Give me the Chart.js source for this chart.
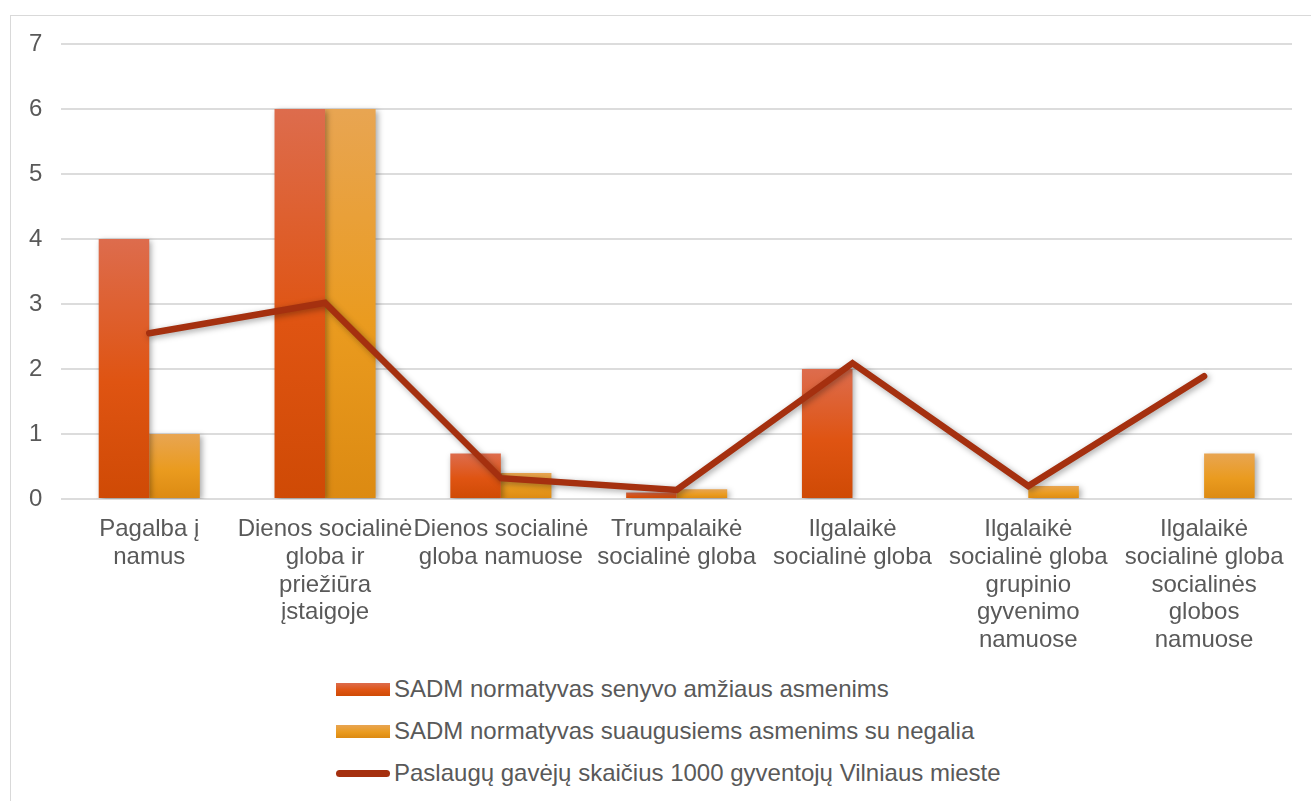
<!DOCTYPE html>
<html>
<head>
<meta charset="utf-8">
<script src="https://cdn.jsdelivr.net/npm/chart.js@4/dist/chart.umd.min.js"></script>
<style>
  html, body { margin: 0; padding: 0; background: #fff; }
  body { width: 1311px; height: 801px; position: relative; overflow: hidden; font-family: "Liberation Sans", Arial, sans-serif; }
  #frame { position: absolute; left: 10px; top: 15px; width: 1310px; height: 800px; border: 1.5px solid #d9d9d9; box-sizing: border-box; }
  #wrap { position: absolute; left: 0; top: 0; width: 1311px; height: 663px; }
  #legend { position: absolute; left: 336px; top: 668px; color: #595959; font-size: 24px; }
  #legend .item { height: 42px; display: flex; align-items: center; }
  #legend .swatch { width: 54px; height: 13px; margin-right: 4px; }
  #legend .lineSwatch { width: 54px; height: 7px; border-radius: 4px; margin-right: 4px; }
</style>
</head>
<body>
<div id="frame"></div>
<div id="wrap"><canvas id="chart" width="1311" height="663"></canvas></div>
<div id="legend"></div>
<script>
const categories = [
  ['Pagalba į', 'namus'],
  ['Dienos socialinė', 'globa ir', 'priežiūra', 'įstaigoje'],
  ['Dienos socialinė', 'globa namuose'],
  ['Trumpalaikė', 'socialinė globa'],
  ['Ilgalaikė', 'socialinė globa'],
  ['Ilgalaikė', 'socialinė globa', 'grupinio', 'gyvenimo', 'namuose'],
  ['Ilgalaikė', 'socialinė globa', 'socialinės', 'globos', 'namuose']
]
const seriesNames = [
  'SADM normatyvas senyvo amžiaus asmenims',
  'SADM normatyvas suaugusiems asmenims su negalia',
  'Paslaugų gavėjų skaičius 1000 gyventojų Vilniaus mieste'
]
const seniorNorm = [4, 6, 0.7, 0.1, 2, null, null]
const disabilityNorm = [1, 6, 0.4, 0.15, null, 0.2, 0.7]
const recipientsPer1000 = [2.55, 3.02, 0.32, 0.14, 2.09, 0.2, 1.89]
const yMin = 0, yMax = 7, yStep = 1

const redStops = ['#dd6c4d', '#df5412', '#cf4a05']
const amberStops = ['#e8a552', '#ea9b1f', '#dc8a12']
const lineColor = '#a5300f'

function barFill(c, stops) {
  var chart = c.chart
  if (!chart.chartArea || c.raw == null) return stops[1]
  var y = chart.scales.y
  var top = y.getPixelForValue(c.raw)
  var base = y.getPixelForValue(0)
  if (base - top < 1) return stops[1]
  var g = chart.ctx.createLinearGradient(0, top, 0, base)
  g.addColorStop(0, stops[0])
  g.addColorStop(0.55, stops[1])
  g.addColorStop(1, stops[2])
  return g
}

// soft drop shadow like the office chart
const shadowPlugin = {
  id: 'shadow',
  beforeDatasetDraw(chart, args) {
    var ctx = chart.ctx
    ctx.save()
    ctx.shadowColor = 'rgba(0,0,0,0.35)'
    ctx.shadowBlur = 6
    ctx.shadowOffsetX = 2
    ctx.shadowOffsetY = 2
  },
  afterDatasetDraw(chart) {
    chart.ctx.restore()
  }
}

const font = { family: '"Liberation Sans", Arial, sans-serif', size: 24, lineHeight: 1.15 }

var chart = new Chart(document.getElementById('chart'), {
  type: 'bar',
  data: {
    labels: categories,
    datasets: [
      {
        label: seriesNames[0],
        data: seniorNorm,
        backgroundColor: c => barFill(c, redStops),
        categoryPercentage: 0.575,
        barPercentage: 1,
        order: 1
      },
      {
        label: seriesNames[1],
        data: disabilityNorm,
        backgroundColor: c => barFill(c, amberStops),
        categoryPercentage: 0.575,
        barPercentage: 1,
        order: 1
      },
      {
        type: 'line',
        label: seriesNames[2],
        data: recipientsPer1000,
        borderColor: lineColor,
        borderWidth: 6.5,
        borderCapStyle: 'round',
        borderJoinStyle: 'miter',
        pointRadius: 0,
        tension: 0,
        fill: false,
        order: 0
      }
    ]
  },
  options: {
    responsive: false,
    animation: false,
    layout: { padding: { left: 10, right: 19, top: 44, bottom: 0 } },
    plugins: {
      legend: { display: false },
      tooltip: { enabled: false }
    },
    scales: {
      x: {
        grid: { display: false },
        border: { display: false },
        ticks: {
          color: '#595959',
          font: font,
          padding: 9,
          maxRotation: 0,
          minRotation: 0,
          autoSkip: false
        }
      },
      y: {
        min: yMin,
        max: yMax,
        grid: { color: '#dcdcdc', lineWidth: 2, drawTicks: false },
        border: { display: false },
        ticks: {
          stepSize: yStep,
          color: '#595959',
          font: font,
          padding: 19
        }
      }
    }
  },
  plugins: [shadowPlugin]
})

// legend below the chart, one entry per row
var legendEl = document.getElementById('legend')
var swatchGrad = [redStops, amberStops]
chart.data.datasets.forEach(function (ds, i) {
  var row = document.createElement('div')
  row.className = 'item'
  var sw = document.createElement('span')
  if (ds.type === 'line') {
    sw.className = 'lineSwatch'
    sw.style.background = lineColor
  } else {
    sw.className = 'swatch'
    var s = swatchGrad[i]
    sw.style.background = 'linear-gradient(' + s[0] + ',' + s[1] + ' 55%,' + s[2] + ')'
  }
  var txt = document.createElement('span')
  txt.textContent = ds.label
  row.appendChild(sw)
  row.appendChild(txt)
  legendEl.appendChild(row)
})
</script>
</body>
</html>
